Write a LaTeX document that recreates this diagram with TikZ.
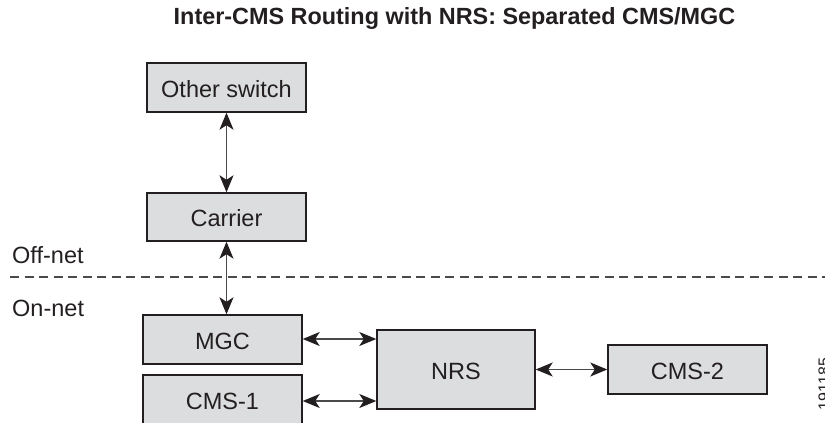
\documentclass[tikz,border=0pt]{standalone}
\usepackage{fontspec}
\setmainfont{Liberation Sans}
\usetikzlibrary{arrows.meta}
\definecolor{boxfill}{HTML}{DCDDDE}
\definecolor{ink}{HTML}{231F20}
\definecolor{linegray}{HTML}{4A4A4A}
\begin{document}
\begin{tikzpicture}[x=1pt,y=-1pt,
  blk/.style={draw=ink, line width=1.4pt, fill=boxfill, rectangle, inner sep=0pt,
    minimum width=159pt, minimum height=49pt, text=ink,
    font=\fontsize{23.5}{26}\selectfont, text height=19.4pt, text depth=0pt},
  tip/.style={Stealth[length=17pt,width=14pt,inset=4.5pt,fill=ink]},
  conn/.style={draw=linegray, line width=1.3pt, {Stealth[length=17pt,width=14pt,inset=4.5pt,color=ink]}-{Stealth[length=17pt,width=14pt,inset=4.5pt,color=ink]}},
  lbl/.style={text=ink, font=\fontsize{23.5}{26}\selectfont, inner sep=0pt}
]
\useasboundingbox (0,0) rectangle (825,423);
\node[text=ink, font=\bfseries\fontsize{23.4}{28}\selectfont, inner sep=0pt, anchor=base] (title) at (454.5,24) {Inter-CMS Routing with NRS: Separated CMS/MGC};

\node[blk] (os) at (226.5,87.5) {Other switch};
\node[blk, minimum height=48pt] (carrier) at (226.5,217) {Carrier};
\node[blk] (mgc) at (222.5,339.5) {MGC};
\node[blk] (cms1) at (222.5,399.5) {CMS-1};
\node[blk, minimum width=158pt, minimum height=79pt] (nrs) at (456,369.5) {NRS};
\node[blk] (cms2) at (687.5,369.5) {CMS-2};

\coordinate (dl) at (10,277);
\coordinate (dr) at (825,277);
\draw[linegray, line width=1.2pt, dash pattern=on 9pt off 5.5pt] (dl) -- (dr);

\node[lbl, anchor=base west] (off) at (12,263) {Off-net};
\node[lbl, anchor=base west] (on) at (12,316) {On-net};

\draw[conn] (os.south) -- (carrier.north);
\draw[conn] (carrier.south) -- (carrier.south |- mgc.north);
\draw[conn] ([yshift=0.5pt]mgc.east) -- ([yshift=0.5pt]mgc.east -| nrs.west);
\draw[conn] ([yshift=-1.5pt]cms1.east) -- ([yshift=-1.5pt]cms1.east -| nrs.west);
\draw[conn] (nrs.east) -- (cms2.west);

\node[text=ink, font=\fontsize{16}{18}\selectfont, rotate=90, inner sep=0pt] (num) at (824,384) {191185};
\end{tikzpicture}
\end{document}
